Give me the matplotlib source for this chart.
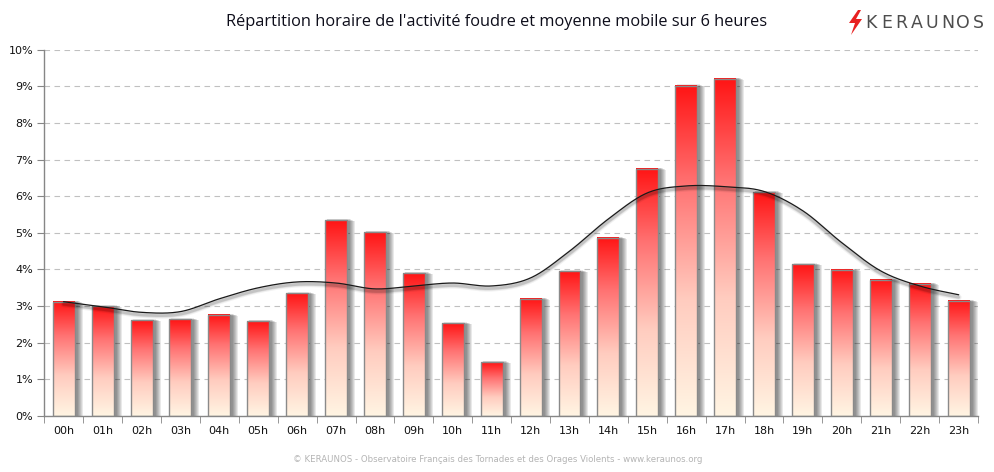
import numpy as np
import matplotlib
matplotlib.use("Agg")
import matplotlib.pyplot as plt
from matplotlib.patches import Rectangle, Polygon
from matplotlib.colors import LinearSegmentedColormap

hours = [f"{h:02d}h" for h in range(24)]
activity = [3.12, 2.99, 2.61, 2.64, 2.76, 2.59, 3.35, 5.35, 5.02, 3.90, 2.53, 1.47,
            3.20, 3.95, 4.86, 6.75, 9.02, 9.21, 6.11, 4.14, 3.99, 3.72, 3.61, 3.14]
moving_avg = [3.12, 2.98, 2.83, 2.85, 3.20, 3.50, 3.66, 3.63, 3.47, 3.55, 3.63, 3.55,
              3.77, 4.50, 5.38, 6.09, 6.28, 6.26, 6.13, 5.60, 4.73, 3.96, 3.55, 3.31]
y_ticks = list(range(0, 11))
y_labels = [f"{t}%" for t in y_ticks]
title = "Répartition horaire de l'activité foudre et moyenne mobile sur 6 heures"
footer = "© KERAUNOS - Observatoire Français des Tornades et des Orages Violents - www.keraunos.org"
logo = "KERAUNOS"

W, H = 994, 472
fig = plt.figure(figsize=(W / 100, H / 100), dpi=100)
ax_l, ax_r, ax_t, ax_b = 44.3, 978.0, 49.7, 416.0
ax = fig.add_axes([ax_l / W, 1 - ax_b / H, (ax_r - ax_l) / W, (ax_b - ax_t) / H])

x = np.arange(len(hours))
xmin, xmax, ymin, ymax = -0.5, len(hours) - 0.5, 0, 10
px_x = (xmax - xmin) / (ax_r - ax_l)
px_y = (ymax - ymin) / (ax_b - ax_t)

bar_w = 0.565
cmap = LinearSegmentedColormap.from_list(
    "g", [(0.0, (1.0, 0.96, 0.89)), (0.35, (1.0, 0.80, 0.75)), (0.7, (1.0, 0.45, 0.45)), (1.0, (1.0, 0.08, 0.08))])
grad = cmap(np.linspace(1, 0, 256))[:, None, :3]

for xi, v in zip(x, activity):
    # shadow
    for k in range(1, 7):
        ax.add_patch(Rectangle((xi - bar_w / 2 + 2 * px_x, 0), bar_w + k * px_x, v + (1.5 - k * 0.4) * px_y,
                               facecolor="black", edgecolor="none", alpha=0.085, zorder=1))
    ax.imshow(grad, extent=[xi - bar_w / 2, xi + bar_w / 2, 0, v], aspect="auto", zorder=2,
              interpolation="bilinear")
    ax.add_patch(Rectangle((xi - bar_w / 2, 0), bar_w, v, facecolor="none", edgecolor="#8a8a8a",
                           linewidth=1.0, zorder=3))

# smooth moving-average line (Catmull-Rom)
pts = np.column_stack([x, moving_avg]).astype(float)
P = np.vstack([pts[0], pts, pts[-1]])
xs, ys = [], []
for i in range(1, len(P) - 2):
    p0, p1, p2, p3 = P[i - 1], P[i], P[i + 1], P[i + 2]
    t = np.linspace(0, 1, 30, endpoint=False)[:, None]
    c = 0.5 * ((2 * p1) + (-p0 + p2) * t + (2 * p0 - 5 * p1 + 4 * p2 - p3) * t ** 2
               + (-p0 + 3 * p1 - 3 * p2 + p3) * t ** 3)
    xs.extend(c[:, 0]); ys.extend(c[:, 1])
xs.append(pts[-1, 0]); ys.append(pts[-1, 1])
xs = np.array(xs); ys = np.array(ys)
for k, a in [(2, 0.12), (3, 0.08), (4.5, 0.05)]:
    ax.plot(xs, ys - 2.5 * px_y, color="black", linewidth=k, alpha=a, zorder=4, solid_capstyle="round")
ax.plot(xs, ys, color="#1a1a1a", linewidth=0.9, zorder=5)

ax.set_xlim(xmin, xmax)
ax.set_ylim(ymin, ymax)
ax.set_yticks(y_ticks)
ax.set_yticklabels(y_labels)
ax.set_xticks(x)
ax.set_xticklabels(hours)
ax.set_xticks(np.arange(-0.5, len(hours), 1), minor=True)
ax.tick_params(axis="x", which="major", length=0, pad=7, labelsize=8, labelcolor="#111111")
ax.tick_params(axis="x", which="minor", length=5, color="#868686", direction="out")
ax.tick_params(axis="y", length=5, color="#868686", labelsize=8, labelcolor="#111111", pad=3)
for s in ["top", "right"]:
    ax.spines[s].set_visible(False)
for s in ["left", "bottom"]:
    ax.spines[s].set_color("#868686")
    ax.spines[s].set_linewidth(1.0)
ax.set_axisbelow(True)
ax.yaxis.grid(True, color="#c0c0c0", linestyle=(0, (5, 4)), linewidth=0.8, zorder=0)
ax.set_facecolor("white")

fig.text(497 / W, 1 - 22 / H, title, ha="center", va="center", fontsize=11.8, color="#0d0d1a",
         family="Open Sans")
fig.text(498 / W, 1 - 459 / H, footer, ha="center", va="center", fontsize=6.2, color="#b4b4b4")

# logo
bolt = np.array([[858, 10], [849, 23], [855, 23], [851, 35], [862, 19], [856, 19], [861, 10]], float)
bolt[:, 0] /= W
bolt[:, 1] = 1 - bolt[:, 1] / H
fig.patches.append(Polygon(bolt, closed=True, transform=fig.transFigure, facecolor="#e82020", edgecolor="none"))
lx0, lstep = 871.0, 15.3
for i, ch in enumerate(logo):
    fig.text((lx0 + i * lstep) / W, 1 - 23.5 / H, ch, ha="center", va="center", fontsize=12.5,
             color="#4d4d4d", family="DejaVu Sans")

fig.savefig("out.png", dpi=100, facecolor="white")
